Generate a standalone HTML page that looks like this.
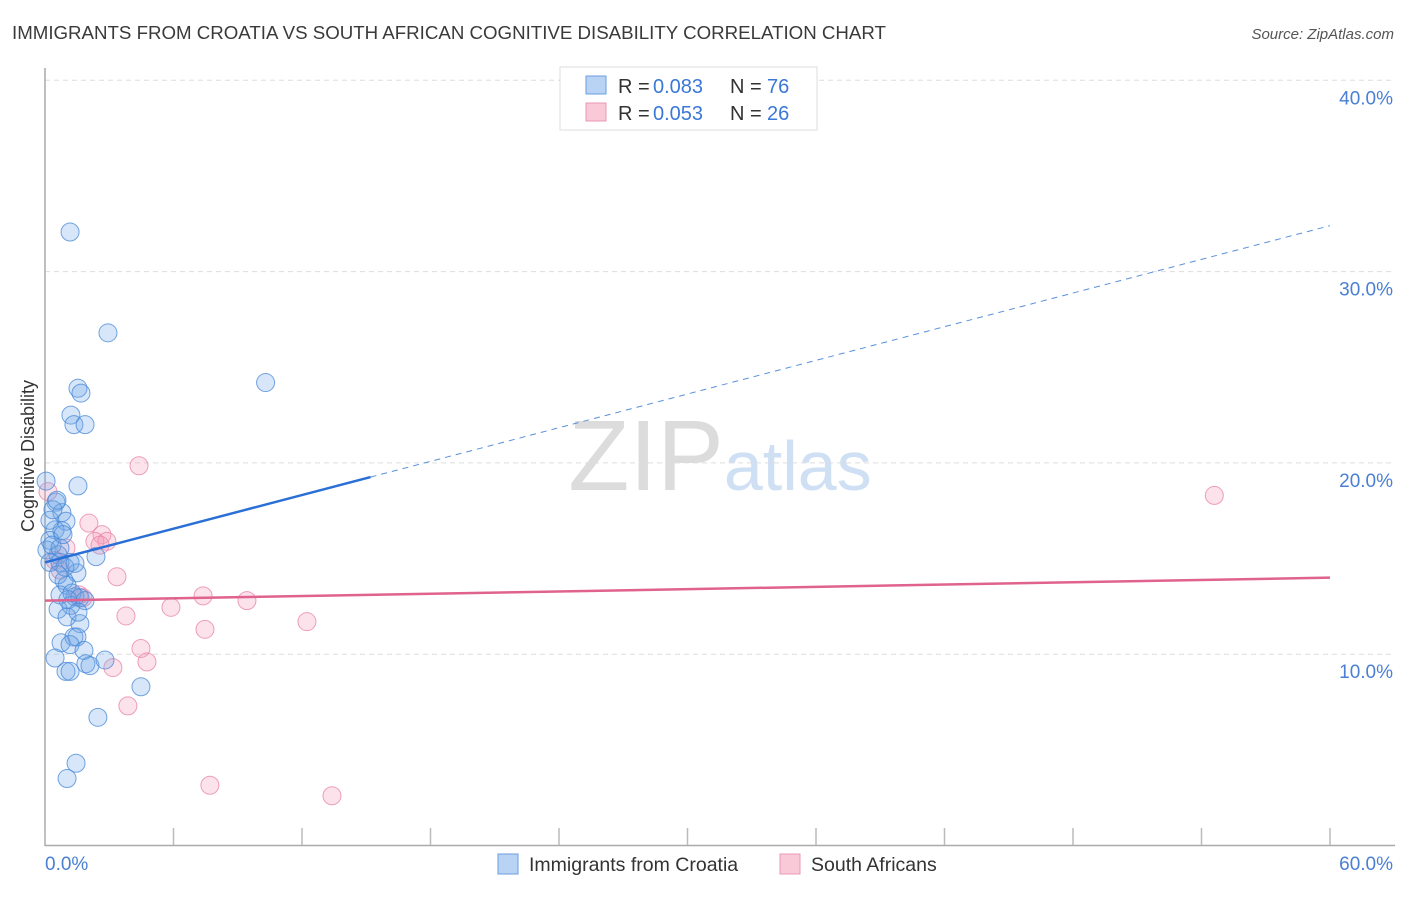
<!DOCTYPE html>
<html><head><meta charset="utf-8"><style>
body{margin:0;background:#fff;font-family:"Liberation Sans",sans-serif;}
svg text{font-family:"Liberation Sans",sans-serif;}
</style></head><body>
<svg id="chart" width="1406" height="892" xmlns="http://www.w3.org/2000/svg">
<text x="12" y="39" font-size="18.7" fill="#3a3a3a">IMMIGRANTS FROM CROATIA VS SOUTH AFRICAN COGNITIVE DISABILITY CORRELATION CHART</text>
<text x="1394" y="39" font-size="15" fill="#555" text-anchor="end" font-style="italic">Source: ZipAtlas.com</text>
<text x="720" y="490" font-size="100" text-anchor="middle" fill="#ddd" font-family="Liberation Serif"><tspan fill="#dcdcdc">ZIP</tspan><tspan fill="#cfe0f4" font-family="Liberation Sans" font-size="70">atlas</tspan></text>
<text transform="translate(34,456) rotate(-90)" font-size="18" fill="#333" text-anchor="middle">Cognitive Disability</text>
<g id="grid"></g><g id="axes"></g><g id="marks"></g>
<g>
<rect x="560" y="67" width="257" height="63" fill="#fff" stroke="#ddd"/>
<rect x="586" y="76" width="20" height="18" fill="#b9d3f5" stroke="#6a9ee0"/>
<rect x="586" y="103" width="20" height="18" fill="#f9c9d8" stroke="#ec98b4"/>
<text x="618" y="93" font-size="20" fill="#333">R =</text><text x="653" y="93" font-size="20" fill="#3a78d8">0.083</text>
<text x="730" y="93" font-size="20" fill="#333">N =</text><text x="767" y="93" font-size="20" fill="#3a78d8">76</text>
<text x="618" y="120" font-size="20" fill="#333">R =</text><text x="653" y="120" font-size="20" fill="#3a78d8">0.053</text>
<text x="730" y="120" font-size="20" fill="#333">N =</text><text x="767" y="120" font-size="20" fill="#3a78d8">26</text>
</g>
<g>
<rect x="498" y="854" width="20" height="20" fill="#b9d3f5" stroke="#6a9ee0"/>
<text x="529" y="871" font-size="19.5" fill="#333">Immigrants from Croatia</text>
<rect x="780" y="854" width="20" height="20" fill="#f9c9d8" stroke="#ec98b4"/>
<text x="811" y="871" font-size="19.5" fill="#333">South Africans</text>
</g>
</svg>
<script>
const xTicks=[0,60];
const yTicks=[10,20,30,40];
const blueX=[1.17,2.94,10.3,1.54,1.68,1.21,1.35,1.87,1.54,0.05,0.51,0.79,0.98,0.47,0.79,0.23,0.09,0.61,1.17,0.23,0.7,2.38,1.49,0.89,1.03,0.7,1.4,1.26,1.63,1.21,0.61,1.03,1.63,0.75,1.35,1.49,1.17,1.82,0.47,1.91,2.1,0.98,1.17,2.8,4.48,2.47,1.45,1.03,0.23,0.33,0.7,0.93,1.4,0.61,0.37,0.84,1.07,1.87,1.54,0.56];
const blueY=[32.07,26.8,24.2,23.9,23.65,22.5,22.0,22.0,18.8,19.05,17.95,17.4,16.95,16.5,16.45,15.95,15.45,15.2,14.8,14.8,14.8,15.1,14.25,13.85,13.6,13.1,13.0,13.2,12.95,12.55,12.35,11.95,11.6,10.6,10.9,10.9,10.5,10.2,9.8,9.5,9.4,9.1,9.1,9.7,8.3,6.7,4.3,3.5,17.0,15.7,15.55,14.55,14.75,14.15,17.55,16.25,12.85,12.8,12.2,18.05];
const pinkX=[4.39,54.6,0.14,2.05,2.66,2.33,2.89,0.98,3.36,1.59,1.77,7.38,9.43,5.88,3.78,12.23,7.47,4.48,4.76,3.17,3.87,7.7,13.4,0.47,0.7,2.57];
const pinkY=[19.85,18.3,18.5,16.85,16.25,15.9,15.9,15.55,14.05,13.1,12.95,13.05,12.8,12.45,12.0,11.7,11.3,10.3,9.6,9.3,7.3,3.15,2.6,14.9,14.4,15.7];
const blueTrend=[14.8,32.4]; const blueSolidEnd=15.2;
const pinkTrend=[12.8,14.0];
const X=v=>45+v*(1285/60), Y=v=>845.5-v*19.13;
const NS="http://www.w3.org/2000/svg";
function mk(t,a,p){const e=document.createElementNS(NS,t);for(const k in a)e.setAttribute(k,a[k]);p.appendChild(e);return e;}
const grid=document.getElementById('grid'),axes=document.getElementById('axes'),marks=document.getElementById('marks');
yTicks.forEach(v=>{
 const l=mk('line',{x1:45,x2:1395,y1:Y(v),y2:Y(v),stroke:'#ddd','stroke-dasharray':'5,4'},grid);
 
 
 const t=mk('text',{x:1393,y:Y(v)+24,'font-size':19,fill:'#4a7fd4','text-anchor':'end'},axes);
 t.textContent=v.toFixed(1)+'%';
 
 
});
const ya=mk('line',{x1:45,x2:45,y1:68,y2:846,stroke:'#aaa','stroke-width':1.5},axes);


const xa=mk('line',{x1:45,x2:1395,y1:845.5,y2:845.5,stroke:'#aaa','stroke-width':1.5},axes);


for(let i=0;i<=10;i++){const tk=mk('line',{x1:X(i*6),x2:X(i*6),y1:828,y2:845,stroke:'#bbb','stroke-width':1.5},axes);
 
 }
xTicks.forEach((v,i)=>{const t=mk('text',{x:i?1393:45,y:870,'font-size':19,fill:'#4a7fd4','text-anchor':i?'end':'start'},axes);
 t.textContent=v.toFixed(1)+'%';
 
 });
pinkX.forEach((x,i)=>{const c=mk('circle',{cx:X(x),cy:Y(pinkY[i]),r:9,fill:'rgba(245,160,190,0.3)',stroke:'rgba(232,130,165,0.75)','stroke-width':1},marks);
 
 });
blueX.forEach((x,i)=>{const c=mk('circle',{cx:X(x),cy:Y(blueY[i]),r:9,fill:'rgba(110,165,230,0.28)',stroke:'rgba(70,135,215,0.75)','stroke-width':1},marks);
 
 });
const bAt=x=>blueTrend[0]+(blueTrend[1]-blueTrend[0])*x/60;
const b1=mk('line',{x1:X(0),y1:Y(bAt(0)),x2:X(blueSolidEnd),y2:Y(bAt(blueSolidEnd)),stroke:'#2a6fd6','stroke-width':2.5},marks);


const b2=mk('line',{x1:X(blueSolidEnd),y1:Y(bAt(blueSolidEnd)),x2:X(60),y2:Y(bAt(60)),stroke:'#5a90dc','stroke-width':1,'stroke-dasharray':'6,5'},marks);


const p1=mk('line',{x1:X(0),y1:Y(pinkTrend[0]),x2:X(60),y2:Y(pinkTrend[1]),stroke:'#e0628e','stroke-width':2.5},marks);


</script>
</body></html>
